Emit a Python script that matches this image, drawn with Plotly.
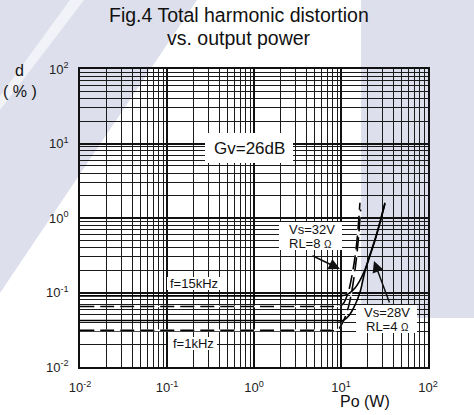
import plotly.graph_objects as go

# ---------------- data ----------------
x_tick_vals = [0.01, 0.1, 1, 10, 100]
x_tick_text = ["10<sup>-2</sup>", "10<sup>-1</sup>", "10<sup>0</sup>", "10<sup>1</sup>", "10<sup>2</sup>"]
y_tick_vals = [0.01, 0.1, 1, 10, 100]
y_tick_text = ["10<sup>-2</sup>", "10<sup>-1</sup>", "10<sup>0</sup>", "10<sup>1</sup>", "10<sup>2</sup>"]

# Vs=28V, RL=4 ohm (solid)
po_28v_15k = [0.01, 1, 8, 10, 12, 14.5, 16.5, 18.8, 21.5, 25, 28.5, 32]
thd_28v_15k = [0.09, 0.09, 0.09, 0.09, 0.095, 0.115, 0.145, 0.2, 0.32, 0.55, 0.95, 1.6]
po_28v_1k = [0.01, 1, 8.5, 10.5, 12.5, 14.5, 16.5, 18.8, 21.5, 25, 28.5, 32]
thd_28v_1k = [0.042, 0.042, 0.042, 0.042, 0.05, 0.068, 0.1, 0.19, 0.31, 0.53, 0.92, 1.55]

# Vs=32V, RL=8 ohm (dashed)
po_32v_15k = [0.01, 1, 7.5, 9, 10.5, 11.5, 12.5, 13.5, 14.5, 15.5, 16.5]
thd_32v_15k = [0.065, 0.065, 0.065, 0.065, 0.07, 0.085, 0.115, 0.18, 0.3, 0.6, 1.6]
po_32v_1k = [0.01, 1, 7.5, 9, 10.5, 12, 13, 14, 15, 16, 16.8]
thd_32v_1k = [0.031, 0.031, 0.031, 0.031, 0.04, 0.06, 0.09, 0.15, 0.28, 0.6, 1.3]

minor_vals = [m * 10 ** e for e in range(-2, 2) for m in range(2, 10)]

# ---------------- layout helpers (pixel -> paper) ----------------
L, R, T, B = 80, 46, 69, 48
W, H = 474, 415
PW, PH = W - L - R, H - T - B


def PX(x):
    return (x - L) / PW


def PY(y):
    return (H - B - y) / PH


def path(points):
    return "M " + " L ".join(f"{PX(x):.5f},{PY(y):.5f}" for x, y in points) + " Z"


LAV = "#dde0ec"
FONT = "Arial, Liberation Sans, sans-serif"

fig = go.Figure()

for px_, py_ in [(po_32v_15k, thd_32v_15k), (po_32v_1k, thd_32v_1k)]:
    fig.add_trace(go.Scatter(x=px_, y=py_, mode="lines", line=dict(color="white", width=1.6),
                             line_shape="spline", hoverinfo="skip", showlegend=False))
for px_, py_ in [(po_32v_15k, thd_32v_15k), (po_32v_1k, thd_32v_1k)]:
    fig.add_trace(go.Scatter(x=px_, y=py_, mode="lines",
                             line=dict(color="black", width=1.6, dash="14px,6px"),
                             line_shape="spline", showlegend=False))
for px_, py_ in [(po_28v_15k, thd_28v_15k), (po_28v_1k, thd_28v_1k)]:
    fig.add_trace(go.Scatter(x=px_, y=py_, mode="lines",
                             line=dict(color="black", width=1.6),
                             line_shape="spline", showlegend=False))

axis_common = dict(
    type="log", range=[-2, 2], automargin=False,
    showgrid=True, gridcolor="#111", gridwidth=2,
    showline=True, linecolor="#111", linewidth=1.5, mirror=True,
    ticks="", zeroline=False,
    minor=dict(tickvals=minor_vals, showgrid=True, gridcolor="#1a1a1a", gridwidth=1.2, ticks=""),
    tickfont=dict(family=FONT, size=13, color="#222"),
)
fig.update_xaxes(**axis_common, tickvals=x_tick_vals, ticktext=x_tick_text, ticklabelstandoff=8)
fig.update_yaxes(**axis_common, tickvals=y_tick_vals, ticktext=y_tick_text, ticklabelstandoff=7)

shapes = [
    dict(type="path", xref="paper", yref="paper", layer="below", line=dict(width=0),
         fillcolor="white",
         path=path([(197, 0), (361, 0), (361, 318), (W, 318), (W, H), (0, H), (0, 293)])),
    dict(type="path", xref="paper", yref="paper", layer="below", line=dict(width=0),
         fillcolor="#f2f3f8",
         path=path([(70, 0), (84, 0), (0, 110), (0, 96)])),
]
for (x0, y0, x1, y1) in [(205, 133, 293, 163), (279, 222, 342, 250), (356, 305, 417, 333),
                         (167, 277, 220, 290), (168, 337, 217, 350)]:
    shapes.append(dict(type="rect", xref="paper", yref="paper", layer="above",
                       x0=PX(x0), x1=PX(x1), y0=PY(y1), y1=PY(y0),
                       fillcolor="white", line=dict(width=0)))

annotations = []


def text(s, x, y, size, xanchor="center"):
    annotations.append(dict(text=s, x=PX(x), y=PY(y), xref="paper", yref="paper",
                            xanchor=xanchor, yanchor="middle", showarrow=False,
                            font=dict(family=FONT, size=size, color="#111")))


text("Fig.4 Total harmonic distortion", 239, 15, 19.5)
text("vs. output power", 239, 38, 19.5)
text("d", 20, 70, 16)
text("( % )", 20, 91, 16)
text("Po (W)", 365, 401, 16)
text("Gv=26dB", 249, 148, 17)
text("Vs=32V", 287, 229, 13, "left")
text("RL=8 <span style='font-size:10px'>Ω</span>", 287, 243.5, 13, "left")
text("Vs=28V", 387, 312.5, 13)
text("RL=4 <span style='font-size:10px'>Ω</span>", 387, 326.5, 13)
text("f=15kHz", 194, 283.5, 13)
text("f=1kHz", 193, 343.5, 13)

for tip, tail in [((340, 269), (311, 255)), ((374, 261), (390, 304))]:
    annotations.append(dict(text="", x=PX(tip[0]), y=PY(tip[1]), xref="paper", yref="paper",
                            ax=tail[0] - tip[0], ay=tail[1] - tip[1], showarrow=True,
                            arrowhead=2, arrowsize=1.5, arrowwidth=1.5, arrowcolor="#111",
                            standoff=0))

fig.update_layout(
    width=W, height=H,
    margin=dict(l=L, r=R, t=T, b=B, pad=0),
    paper_bgcolor=LAV, plot_bgcolor="rgba(0,0,0,0)",
    shapes=shapes, annotations=annotations,
    showlegend=False,
)

fig.write_html("out.html", config={"displayModeBar": False},
               post_script="document.body.style.margin='0';document.body.style.padding='0';")
